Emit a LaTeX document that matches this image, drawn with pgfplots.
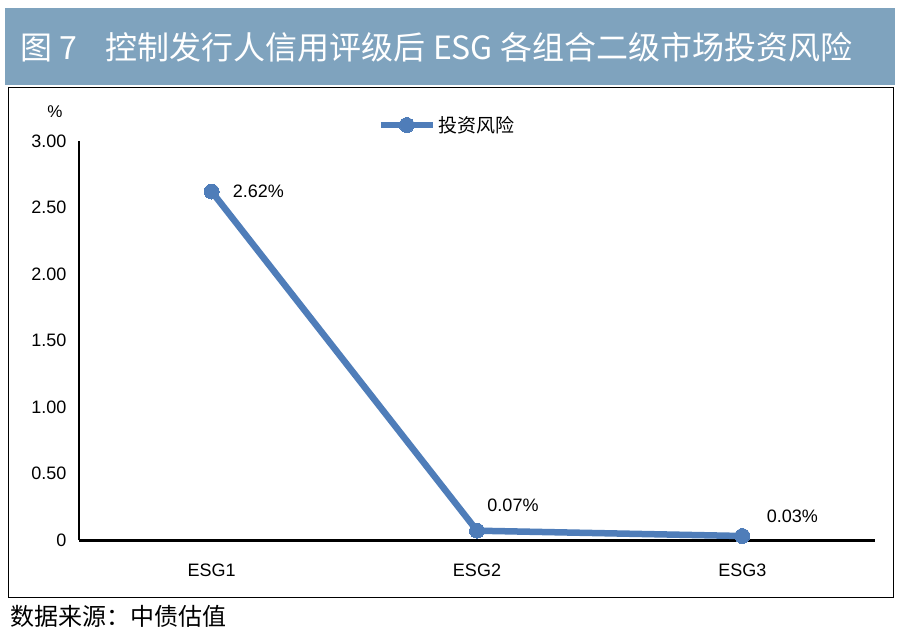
\documentclass[border=0pt]{standalone}
\usepackage{pgfplots}
\pgfplotsset{compat=1.18}
\usepackage{fontspec}
\setmainfont{Liberation Sans}
\newfontfamily\cjk{Noto Sans CJK SC}
\definecolor{banner}{RGB}{127,163,190}
\definecolor{riskblue}{RGB}{79,125,185}

\begin{document}
\begin{tikzpicture}
\path[use as bounding box, fill=white] (0pt,0pt) rectangle (902pt,638pt);
% title banner
\fill[banner] (5pt,553pt) rectangle (895pt,630pt);
\node[anchor=west, text=white, inner sep=0pt] at (20pt,591pt)
  {\cjk\fontsize{32}{32}\selectfont 图 7\hspace{0.9em}控制发行人信用评级后 ESG 各组合二级市场投资风险};
% frame
\draw[line width=1pt] (8pt,41pt) rectangle (893pt,550pt);
% source
\node[anchor=west, inner sep=0pt] at (10pt,22pt)
  {\cjk\fontsize{24}{24}\selectfont 数据来源：中债估值};
% unit
\node[inner sep=0pt] at (55pt,526pt) {\fontsize{17}{17}\selectfont \%};

\begin{axis}[
    at={(79pt,98pt)}, anchor=south west,
    scale only axis,
    width=796pt, height=399pt,
    xmin=-0.5, xmax=2.5,
    ymin=0, ymax=3,
    axis lines=left,
    x axis line style={line width=3pt, -},
    y axis line style={line width=1.3pt, -},
    major tick length=0pt,
    xtick={0,1,2},
    xticklabels={ESG1,ESG2,ESG3},
    ytick={0,0.5,1,1.5,2,2.5,3},
    yticklabels={0,0.50,1.00,1.50,2.00,2.50,3.00},
    /pgf/number format/assume math mode=true,
    ticklabel style={font=\fontsize{18}{18}\selectfont},
    xticklabel style={yshift=-20pt},
    yticklabel style={xshift=-9pt},
    clip=false,
    legend style={at={(axis description cs:0.462,1.04)}, anchor=center,
        draw=none, fill=none, font=\cjk\fontsize{19}{19}\selectfont,
        inner sep=0pt},
    legend image code/.code={
        \draw[mark repeat=2, mark phase=2, #1]
        plot coordinates {(0pt,0pt) (26pt,0pt) (52pt,0pt)};
    },
]
\addplot[color=riskblue, line width=6.5pt, mark=*,
    mark options={line width=0pt, fill=riskblue}, mark size=7.5pt]
    coordinates {(0,2.62) (1,0.07) (2,0.03)};
\addlegendentry{投资风险}

\node[anchor=west, inner sep=0pt, font=\fontsize{18}{18}\selectfont]
  at (axis cs:0,2.62) [xshift=21pt] {2.62\%};
\node[inner sep=0pt, font=\fontsize{18}{18}\selectfont]
  at (axis cs:1,0.07) [xshift=36pt, yshift=25pt] {0.07\%};
\node[inner sep=0pt, font=\fontsize{18}{18}\selectfont]
  at (axis cs:2,0.03) [xshift=50pt, yshift=20pt] {0.03\%};
\end{axis}
\end{tikzpicture}
\end{document}
